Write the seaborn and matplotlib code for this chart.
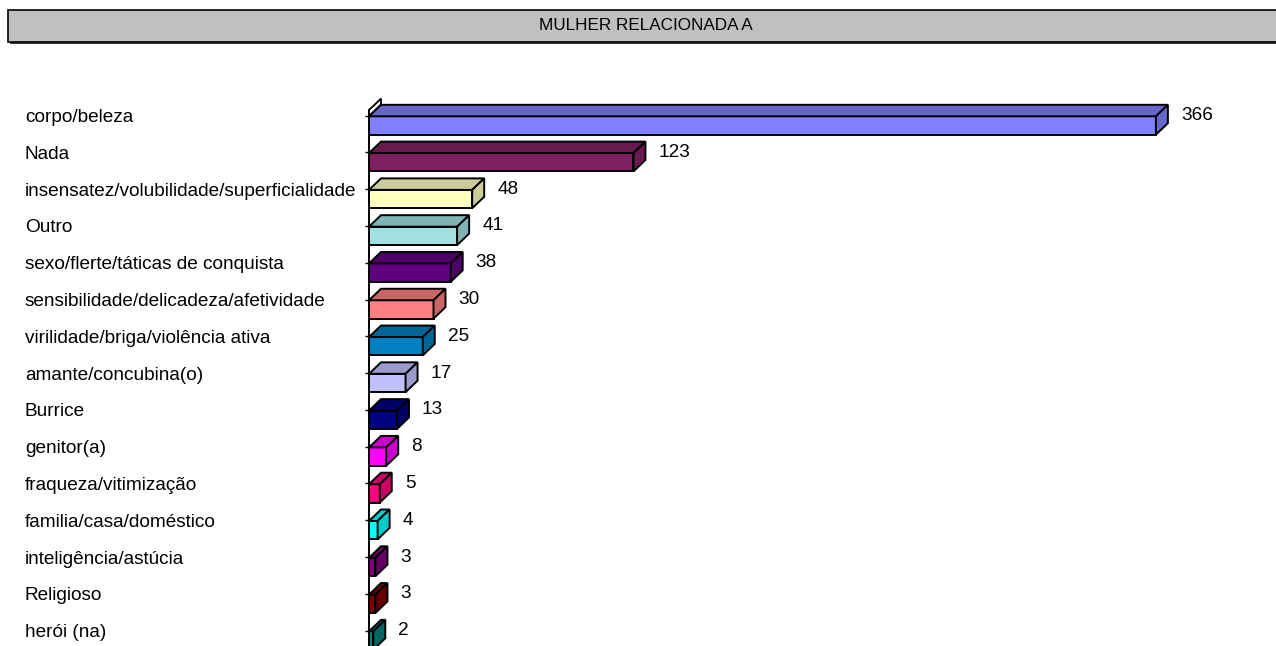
import numpy as np
import pandas as pd
import matplotlib
matplotlib.use("Agg")
import matplotlib.pyplot as plt
import seaborn as sns
from matplotlib.patches import Polygon, Rectangle
from matplotlib import colors as mcolors

# ---------------- data ----------------
categories = [
    "corpo/beleza",
    "Nada",
    "insensatez/volubilidade/superficialidade",
    "Outro",
    "sexo/flerte/táticas de conquista",
    "sensibilidade/delicadeza/afetividade",
    "virilidade/briga/violência ativa",
    "amante/concubina(o)",
    "Burrice",
    "genitor(a)",
    "fraqueza/vitimização",
    "familia/casa/doméstico",
    "inteligência/astúcia",
    "Religioso",
    "herói (na)",
]
values = [366, 123, 48, 41, 38, 30, 25, 17, 13, 8, 5, 4, 3, 3, 2]
front_colors = [
    "#8080FF", "#802060", "#FFFFC0", "#A0E0E0", "#600080",
    "#FF8080", "#0080C0", "#C0C0FF", "#000080", "#FF00FF",
    "#FF0080", "#00FFFF", "#800080", "#800000", "#008080",
]
title = "MULHER RELACIONADA A"

# ---------------- style ----------------
sns.set_theme(style="white")
plt.rcParams['font.family'] = ['Liberation Sans', 'DejaVu Sans']

W, H = 1276, 646
fig = plt.figure(figsize=(W / 100, H / 100), dpi=100)

px_per_unit = 2.15
row_px = 36.79
ax_top_px = 95
ax_left_px = 369
xmax = 400
ax = fig.add_axes([ax_left_px / W, 0, xmax * px_per_unit / W, (H - ax_top_px) / H])

df = pd.DataFrame({"cat": categories, "val": values})
sns.barplot(data=df, y="cat", x="val", hue="cat", palette=front_colors,
            orient="h", width=0.5, edgecolor="black", linewidth=1.4,
            saturation=1, legend=False, ax=ax)

ymin = -(125.5 - ax_top_px) / row_px
ymax = (H - 125.5) / row_px
ax.set_xlim(0, xmax)
ax.set_ylim(ymax, ymin)

dx = 12 / px_per_unit
dy = 11.5 / row_px
label_shift = 0.27

# 3D faces derived from the bars seaborn drew
for p in list(ax.patches):
    x0, y0, w, h = p.get_x(), p.get_y(), p.get_width(), p.get_height()
    fc = np.array(mcolors.to_rgb(p.get_facecolor())) * 0.8
    top = Polygon([(x0, y0), (x0 + w, y0), (x0 + w + dx, y0 - dy), (x0 + dx, y0 - dy)],
                  closed=True, facecolor=fc, edgecolor="black", linewidth=1.4)
    side = Polygon([(x0 + w, y0), (x0 + w, y0 + h), (x0 + w + dx, y0 + h - dy), (x0 + w + dx, y0 - dy)],
                   closed=True, facecolor=fc, edgecolor="black", linewidth=1.4)
    ax.add_patch(top)
    ax.add_patch(side)

# value labels
for i, v in enumerate(values):
    ax.annotate(f"{v}", xy=(v, i - label_shift), xytext=(18, 0),
                textcoords="offset points", ha="left", va="center",
                fontsize=13.7, color="black")

# small 3D wall strip at top of axis
wall = Polygon([(0, -0.26), (0, -0.42), (dx, -0.42 - dy), (dx, -0.26 - dy)],
               closed=True, facecolor="white", edgecolor="black", linewidth=1.3,
               clip_on=False)
ax.add_patch(wall)

# axes cosmetics
ax.set_yticks(np.arange(len(categories)) - label_shift)
ax.set_yticklabels(categories, fontsize=13.7, color="black")
for t in ax.get_yticklabels():
    t.set_horizontalalignment("left")
tick_len_pt = 3
pad_pt = (ax_left_px - 25 - tick_len_pt * 100 / 72) * 72 / 100
ax.tick_params(axis="y", left=True, length=tick_len_pt, width=1, color="black",
               direction="out", pad=pad_pt)
ax.set_xticks([])
ax.set_xlabel("")
ax.set_ylabel("")
for s in ["top", "right", "bottom"]:
    ax.spines[s].set_visible(False)
ax.spines["left"].set_color("black")
ax.spines["left"].set_linewidth(1.4)
ax.spines["left"].set_bounds(-0.42, ymax)
ax.grid(False)

# title box
fig.add_artist(Rectangle((10 / W, 1 - 44 / H), (W) / W, 32 / H,
                         transform=fig.transFigure, facecolor="#404040",
                         edgecolor="none"))
fig.add_artist(Rectangle((8 / W, 1 - 42 / H), (W) / W, 32 / H,
                         transform=fig.transFigure, facecolor="#C0C0C0",
                         edgecolor="black", linewidth=1.2))
fig.text(646 / W, 1 - 26 / H, title, ha="center", va="center",
         fontsize=12.3, color="black")

fig.savefig("out.png", dpi=100)
